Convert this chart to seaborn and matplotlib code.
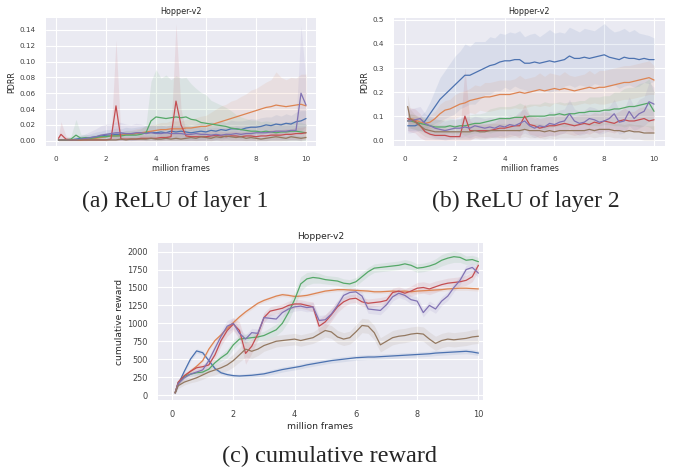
import numpy as np
import matplotlib
matplotlib.use("Agg")
import matplotlib.pyplot as plt
import seaborn as sns

# x grid (million frames): 0.1, then every 0.2 up to 10
FRAMES = np.concatenate([[0.1], np.arange(1, 51) * 0.2])
SERIES = ["blue", "orange", "green", "red", "purple", "brown"]

# (a) PDRR, ReLU of layer 1
a_blue = [0.001,
          0.001, 0.001, 0.001, 0.002, 0.003, 0.003, 0.004, 0.005, 0.006, 0.007,
          0.007, 0.008, 0.008, 0.009, 0.008, 0.009, 0.010, 0.010, 0.011, 0.010,
          0.011, 0.010, 0.012, 0.011, 0.012, 0.011, 0.010, 0.011, 0.012, 0.011,
          0.013, 0.012, 0.014, 0.013, 0.015, 0.015, 0.014, 0.016, 0.017, 0.017,
          0.018, 0.020, 0.019, 0.021, 0.020, 0.022, 0.021, 0.024, 0.025, 0.028]
a_orange = [0.001,
            0.001, 0.001, 0.001, 0.001, 0.001, 0.002, 0.003, 0.003, 0.004, 0.005,
            0.006, 0.006, 0.007, 0.008, 0.008, 0.009, 0.010, 0.011, 0.012, 0.013,
            0.014, 0.014, 0.015, 0.015, 0.015, 0.016, 0.016, 0.017, 0.018, 0.018,
            0.020, 0.022, 0.024, 0.026, 0.028, 0.030, 0.032, 0.034, 0.036, 0.038,
            0.040, 0.042, 0.043, 0.045, 0.044, 0.043, 0.044, 0.045, 0.046, 0.044]
a_green = [0.001,
           0.001, 0.001, 0.002, 0.007, 0.003, 0.004, 0.003, 0.004, 0.005, 0.005,
           0.006, 0.006, 0.006, 0.007, 0.007, 0.007, 0.008, 0.010, 0.025, 0.030,
           0.029, 0.028, 0.029, 0.030, 0.029, 0.030, 0.027, 0.026, 0.023, 0.022,
           0.021, 0.020, 0.019, 0.018, 0.016, 0.015, 0.014, 0.013, 0.012, 0.012,
           0.011, 0.012, 0.011, 0.010, 0.011, 0.011, 0.012, 0.012, 0.011, 0.010]
a_red = [0.003,
         0.008, 0.002, 0.001, 0.001, 0.001, 0.001, 0.001, 0.001, 0.001, 0.001,
         0.002, 0.044, 0.002, 0.002, 0.002, 0.002, 0.003, 0.003, 0.003, 0.003,
         0.004, 0.004, 0.005, 0.050, 0.020, 0.006, 0.005, 0.005, 0.005, 0.005,
         0.006, 0.007, 0.006, 0.005, 0.006, 0.006, 0.005, 0.006, 0.006, 0.005,
         0.006, 0.006, 0.007, 0.007, 0.007, 0.008, 0.008, 0.009, 0.009, 0.010]
a_purple = [0.001,
            0.001, 0.001, 0.001, 0.001, 0.002, 0.003, 0.004, 0.005, 0.007, 0.008,
            0.009, 0.010, 0.010, 0.009, 0.009, 0.010, 0.010, 0.009, 0.010, 0.009,
            0.009, 0.010, 0.009, 0.009, 0.009, 0.008, 0.008, 0.009, 0.008, 0.008,
            0.007, 0.008, 0.007, 0.008, 0.008, 0.009, 0.008, 0.009, 0.009, 0.010,
            0.010, 0.010, 0.011, 0.012, 0.012, 0.012, 0.013, 0.013, 0.060, 0.045]
a_brown = [0.001,
           0.001, 0.001, 0.001, 0.001, 0.001, 0.001, 0.001, 0.001, 0.001, 0.001,
           0.001, 0.001, 0.002, 0.001, 0.002, 0.002, 0.002, 0.002, 0.003, 0.002,
           0.002, 0.003, 0.002, 0.003, 0.002, 0.003, 0.004, 0.003, 0.005, 0.004,
           0.003, 0.005, 0.004, 0.006, 0.005, 0.004, 0.005, 0.003, 0.004, 0.003,
           0.002, 0.003, 0.004, 0.005, 0.004, 0.003, 0.005, 0.004, 0.003, 0.004]
# half-widths of the shaded bands
a_blue_sd = [0.002,
             0.002, 0.002, 0.003, 0.003, 0.004, 0.004, 0.005, 0.006, 0.006, 0.007,
             0.007, 0.008, 0.007, 0.008, 0.008, 0.008, 0.008, 0.009, 0.008, 0.009,
             0.009, 0.008, 0.009, 0.009, 0.009, 0.010, 0.009, 0.010, 0.011, 0.010,
             0.011, 0.010, 0.011, 0.010, 0.011, 0.010, 0.011, 0.010, 0.011, 0.010,
             0.011, 0.010, 0.011, 0.012, 0.011, 0.012, 0.011, 0.012, 0.013, 0.010]
a_orange_sd = [0.001,
               0.001, 0.001, 0.001, 0.001, 0.001, 0.002, 0.002, 0.002, 0.003, 0.003,
               0.004, 0.004, 0.004, 0.005, 0.005, 0.006, 0.006, 0.007, 0.008, 0.008,
               0.009, 0.009, 0.010, 0.010, 0.010, 0.011, 0.011, 0.012, 0.013, 0.014,
               0.016, 0.018, 0.020, 0.020, 0.022, 0.022, 0.024, 0.025, 0.028, 0.028,
               0.030, 0.032, 0.034, 0.042, 0.036, 0.034, 0.036, 0.034, 0.038, 0.040]
a_green_sd = [0.001,
              0.001, 0.002, 0.004, 0.020, 0.005, 0.004, 0.004, 0.004, 0.004, 0.005,
              0.005, 0.005, 0.005, 0.006, 0.006, 0.006, 0.007, 0.010, 0.050, 0.060,
              0.050, 0.055, 0.048, 0.052, 0.050, 0.050, 0.045, 0.040, 0.038, 0.036,
              0.030, 0.028, 0.026, 0.024, 0.022, 0.018, 0.016, 0.015, 0.014, 0.014,
              0.013, 0.013, 0.013, 0.012, 0.012, 0.012, 0.012, 0.012, 0.012, 0.011]
a_red_sd = [0.003,
            0.016, 0.004, 0.002, 0.002, 0.002, 0.002, 0.002, 0.002, 0.002, 0.002,
            0.003, 0.083, 0.003, 0.003, 0.003, 0.003, 0.004, 0.004, 0.004, 0.004,
            0.005, 0.005, 0.006, 0.098, 0.020, 0.006, 0.006, 0.006, 0.006, 0.006,
            0.006, 0.006, 0.006, 0.006, 0.006, 0.006, 0.006, 0.006, 0.006, 0.006,
            0.006, 0.006, 0.007, 0.007, 0.007, 0.007, 0.007, 0.008, 0.008, 0.008]
a_purple_sd = [0.001,
               0.002, 0.002, 0.002, 0.003, 0.004, 0.006, 0.008, 0.010, 0.012, 0.013,
               0.012, 0.014, 0.013, 0.012, 0.011, 0.012, 0.011, 0.010, 0.010, 0.010,
               0.010, 0.010, 0.010, 0.009, 0.009, 0.009, 0.009, 0.009, 0.009, 0.009,
               0.009, 0.009, 0.009, 0.009, 0.009, 0.010, 0.010, 0.010, 0.010, 0.010,
               0.010, 0.010, 0.010, 0.011, 0.011, 0.011, 0.012, 0.012, 0.085, 0.030]
a_brown_sd = [0.001,
              0.001, 0.001, 0.001, 0.001, 0.001, 0.001, 0.001, 0.001, 0.001, 0.001,
              0.001, 0.001, 0.002, 0.002, 0.002, 0.002, 0.002, 0.002, 0.002, 0.002,
              0.002, 0.002, 0.002, 0.003, 0.002, 0.003, 0.003, 0.003, 0.004, 0.003,
              0.003, 0.004, 0.003, 0.004, 0.004, 0.003, 0.004, 0.003, 0.003, 0.003,
              0.002, 0.003, 0.003, 0.004, 0.003, 0.003, 0.004, 0.003, 0.003, 0.003]

# (b) PDRR, ReLU of layer 2
b_blue = [0.06,
          0.06, 0.06, 0.07, 0.08, 0.11, 0.14, 0.17, 0.19, 0.21, 0.23,
          0.25, 0.27, 0.27, 0.28, 0.29, 0.30, 0.31, 0.315, 0.325, 0.33,
          0.33, 0.335, 0.335, 0.32, 0.32, 0.325, 0.32, 0.325, 0.33, 0.325,
          0.33, 0.335, 0.35, 0.34, 0.34, 0.345, 0.34, 0.345, 0.35, 0.355,
          0.345, 0.34, 0.335, 0.345, 0.34, 0.34, 0.335, 0.34, 0.335, 0.335]
b_orange = [0.08,
            0.09, 0.085, 0.075, 0.07, 0.075, 0.09, 0.11, 0.125, 0.13, 0.14,
            0.15, 0.155, 0.165, 0.17, 0.175, 0.18, 0.18, 0.185, 0.19, 0.19,
            0.19, 0.195, 0.20, 0.195, 0.20, 0.205, 0.21, 0.205, 0.21, 0.215,
            0.21, 0.215, 0.21, 0.205, 0.21, 0.215, 0.22, 0.215, 0.22, 0.22,
            0.225, 0.23, 0.235, 0.24, 0.24, 0.245, 0.25, 0.255, 0.26, 0.25]
b_green = [0.08,
           0.08, 0.075, 0.07, 0.065, 0.06, 0.055, 0.055, 0.055, 0.06, 0.055,
           0.06, 0.06, 0.065, 0.07, 0.07, 0.075, 0.08, 0.085, 0.09, 0.09,
           0.09, 0.095, 0.095, 0.095, 0.10, 0.10, 0.10, 0.10, 0.105, 0.105,
           0.11, 0.105, 0.11, 0.11, 0.115, 0.115, 0.12, 0.12, 0.12, 0.125,
           0.125, 0.13, 0.13, 0.135, 0.14, 0.14, 0.145, 0.15, 0.155, 0.12]
b_red = [0.09,
         0.085, 0.08, 0.06, 0.035, 0.025, 0.02, 0.02, 0.02, 0.015, 0.015,
         0.015, 0.10, 0.04, 0.04, 0.04, 0.04, 0.04, 0.045, 0.05, 0.05,
         0.055, 0.06, 0.06, 0.10, 0.065, 0.06, 0.05, 0.055, 0.06, 0.06,
         0.065, 0.07, 0.065, 0.06, 0.065, 0.07, 0.065, 0.075, 0.07, 0.08,
         0.075, 0.07, 0.08, 0.085, 0.08, 0.08, 0.085, 0.09, 0.08, 0.085]
b_purple = [0.08,
            0.08, 0.085, 0.09, 0.07, 0.06, 0.05, 0.045, 0.04, 0.045, 0.05,
            0.05, 0.055, 0.05, 0.06, 0.055, 0.05, 0.055, 0.05, 0.06, 0.055,
            0.065, 0.06, 0.07, 0.08, 0.06, 0.05, 0.06, 0.055, 0.07, 0.065,
            0.075, 0.08, 0.11, 0.08, 0.07, 0.075, 0.09, 0.085, 0.075, 0.08,
            0.09, 0.11, 0.075, 0.08, 0.12, 0.09, 0.11, 0.12, 0.16, 0.15]
b_brown = [0.14,
           0.09, 0.075, 0.06, 0.045, 0.04, 0.035, 0.035, 0.035, 0.035, 0.035,
           0.035, 0.035, 0.035, 0.04, 0.035, 0.035, 0.04, 0.04, 0.04, 0.04,
           0.04, 0.04, 0.04, 0.045, 0.04, 0.04, 0.04, 0.035, 0.04, 0.035,
           0.04, 0.04, 0.04, 0.04, 0.04, 0.04, 0.045, 0.04, 0.045, 0.045,
           0.045, 0.04, 0.04, 0.035, 0.04, 0.035, 0.035, 0.03, 0.03, 0.03]
b_blue_sd = [0.02,
             0.02, 0.02, 0.03, 0.04, 0.05, 0.07, 0.09, 0.10, 0.11, 0.12,
             0.12, 0.13, 0.12, 0.13, 0.12, 0.11, 0.12, 0.11, 0.12, 0.11,
             0.12, 0.11, 0.12, 0.11, 0.12, 0.12, 0.11, 0.12, 0.13, 0.12,
             0.12, 0.11, 0.12, 0.12, 0.11, 0.12, 0.12, 0.11, 0.12, 0.13,
             0.12, 0.11, 0.12, 0.12, 0.11, 0.12, 0.11, 0.10, 0.10, 0.09]
b_orange_sd = [0.02,
               0.02, 0.02, 0.02, 0.02, 0.03, 0.03, 0.04, 0.04, 0.04, 0.05,
               0.05, 0.05, 0.05, 0.06, 0.05, 0.06, 0.06, 0.06, 0.06, 0.06,
               0.06, 0.06, 0.07, 0.06, 0.06, 0.06, 0.07, 0.06, 0.07, 0.06,
               0.06, 0.07, 0.06, 0.06, 0.06, 0.06, 0.07, 0.06, 0.07, 0.07,
               0.07, 0.07, 0.07, 0.07, 0.07, 0.07, 0.07, 0.07, 0.07, 0.06]
b_green_sd = [0.03,
              0.03, 0.03, 0.03, 0.03, 0.03, 0.03, 0.03, 0.03, 0.03, 0.03,
              0.03, 0.04, 0.04, 0.04, 0.04, 0.04, 0.05, 0.05, 0.05, 0.05,
              0.05, 0.05, 0.06, 0.05, 0.05, 0.05, 0.05, 0.06, 0.05, 0.05,
              0.05, 0.05, 0.05, 0.05, 0.05, 0.05, 0.06, 0.06, 0.06, 0.06,
              0.06, 0.07, 0.07, 0.08, 0.08, 0.08, 0.09, 0.09, 0.10, 0.08]
b_red_sd = [0.05,
            0.05, 0.05, 0.05, 0.04, 0.03, 0.03, 0.03, 0.03, 0.02, 0.02,
            0.02, 0.20, 0.04, 0.03, 0.03, 0.03, 0.03, 0.03, 0.04, 0.04,
            0.04, 0.04, 0.05, 0.05, 0.04, 0.04, 0.04, 0.04, 0.04, 0.04,
            0.04, 0.04, 0.04, 0.04, 0.04, 0.04, 0.04, 0.04, 0.04, 0.04,
            0.04, 0.04, 0.04, 0.05, 0.04, 0.04, 0.05, 0.05, 0.05, 0.05]
b_purple_sd = [0.05,
               0.05, 0.05, 0.05, 0.04, 0.04, 0.04, 0.04, 0.04, 0.04, 0.04,
               0.04, 0.04, 0.04, 0.04, 0.04, 0.04, 0.04, 0.04, 0.04, 0.04,
               0.04, 0.04, 0.05, 0.05, 0.04, 0.04, 0.04, 0.04, 0.05, 0.05,
               0.05, 0.05, 0.06, 0.05, 0.05, 0.05, 0.05, 0.05, 0.05, 0.05,
               0.05, 0.06, 0.05, 0.05, 0.06, 0.05, 0.06, 0.06, 0.08, 0.07]
b_brown_sd = [0.05,
              0.04, 0.03, 0.03, 0.03, 0.03, 0.03, 0.03, 0.03, 0.03, 0.03,
              0.03, 0.03, 0.03, 0.03, 0.03, 0.03, 0.03, 0.03, 0.03, 0.03,
              0.03, 0.03, 0.03, 0.03, 0.03, 0.03, 0.03, 0.03, 0.03, 0.03,
              0.03, 0.03, 0.03, 0.03, 0.03, 0.03, 0.03, 0.03, 0.03, 0.03,
              0.03, 0.03, 0.03, 0.03, 0.03, 0.03, 0.03, 0.03, 0.03, 0.03]

# (c) cumulative reward
c_blue = [30,
          150, 330, 500, 615, 590, 480, 370, 310, 285, 270,
          265, 270, 275, 285, 295, 315, 335, 355, 370, 385,
          400, 420, 435, 450, 465, 480, 490, 500, 510, 520,
          525, 530, 530, 535, 540, 545, 550, 555, 560, 565,
          570, 575, 585, 590, 595, 600, 605, 610, 600, 585]
c_orange = [30,
            170, 260, 330, 400, 480, 640, 760, 840, 930, 1010,
            1090, 1160, 1220, 1280, 1320, 1350, 1380, 1400, 1390, 1375,
            1380, 1390, 1410, 1430, 1450, 1460, 1470, 1470, 1465, 1460,
            1455, 1450, 1440, 1440, 1445, 1450, 1445, 1450, 1440, 1450,
            1455, 1460, 1465, 1470, 1480, 1485, 1490, 1490, 1485, 1480]
c_green = [30,
           170, 260, 290, 310, 320, 360, 450, 520, 580, 700,
           780, 790, 800, 810, 830, 870, 910, 1000, 1150, 1330,
           1550, 1620, 1640, 1630, 1610, 1600, 1590, 1560, 1550, 1580,
           1650, 1720, 1770, 1780, 1790, 1800, 1810, 1830, 1810, 1770,
           1780, 1800, 1830, 1880, 1910, 1930, 1920, 1880, 1890, 1860]
c_red = [30,
         180, 270, 330, 380, 395, 420, 560, 760, 900, 990,
         900, 580, 680, 850, 1080, 1170, 1190, 1210, 1250, 1270,
         1270, 1250, 1230, 960, 1020, 1120, 1230, 1300, 1340, 1350,
         1300, 1280, 1290, 1300, 1320, 1430, 1450, 1420, 1450, 1490,
         1500, 1480, 1510, 1540, 1560, 1570, 1580, 1600, 1650, 1810]
c_purple = [30,
            160, 240, 290, 320, 350, 480, 650, 820, 960, 1000,
            860, 780, 870, 860, 1080, 1070, 1060, 1150, 1200, 1230,
            1240, 1220, 1230, 1040, 1050, 1130, 1250, 1390, 1430, 1440,
            1380, 1200, 1190, 1180, 1260, 1370, 1420, 1390, 1330, 1310,
            1150, 1250, 1200, 1310, 1380, 1500, 1600, 1750, 1780, 1700]
c_brown = [30,
           130, 180, 210, 240, 280, 320, 350, 380, 420, 480,
           560, 640, 610, 640, 690, 720, 750, 760, 770, 780,
           760, 780, 800, 850, 900, 880, 810, 780, 800, 880,
           970, 960, 870, 700, 750, 800, 820, 830, 850, 860,
           850, 780, 720, 760, 780, 770, 780, 790, 810, 820]
c_blue_sd = [15,
             30, 30, 30, 30, 30, 25, 25, 25, 25, 25,
             25, 30, 30, 30, 30, 35, 35, 35, 35, 35,
             35, 35, 35, 35, 35, 35, 35, 35, 35, 35,
             35, 35, 35, 35, 35, 35, 35, 35, 35, 35,
             35, 35, 35, 35, 35, 35, 35, 35, 35, 35]
c_orange_sd = [15,
               25, 25, 25, 25, 25, 25, 25, 25, 25, 25,
               25, 25, 25, 25, 25, 25, 25, 25, 25, 25,
               25, 25, 25, 25, 25, 25, 25, 25, 25, 25,
               25, 25, 25, 25, 25, 25, 25, 25, 25, 25,
               25, 25, 25, 25, 25, 25, 30, 30, 30, 30]
c_green_sd = [15,
              30, 30, 30, 30, 30, 35, 40, 50, 60, 60,
              60, 60, 60, 60, 60, 70, 80, 100, 120, 110,
              100, 90, 80, 70, 60, 60, 60, 60, 60, 60,
              60, 60, 60, 60, 60, 60, 60, 60, 60, 60,
              60, 60, 70, 80, 80, 80, 70, 60, 60, 60]
c_red_sd = [15,
            40, 40, 40, 40, 40, 50, 60, 70, 80, 90,
            120, 150, 100, 80, 70, 60, 60, 60, 60, 60,
            60, 60, 70, 100, 100, 90, 80, 70, 60, 60,
            60, 60, 60, 60, 60, 60, 60, 60, 70, 80,
            80, 80, 80, 70, 70, 70, 70, 70, 70, 70]
c_purple_sd = [15,
               40, 40, 40, 40, 50, 60, 70, 80, 80, 80,
               70, 60, 60, 60, 60, 60, 60, 60, 60, 60,
               60, 60, 60, 70, 70, 70, 70, 60, 60, 60,
               60, 60, 60, 60, 60, 60, 60, 60, 60, 60,
               60, 60, 60, 60, 60, 60, 60, 60, 60, 60]
c_brown_sd = [15,
              40, 40, 40, 50, 60, 60, 70, 70, 80, 90,
              100, 110, 100, 90, 80, 80, 80, 80, 80, 80,
              80, 80, 80, 90, 90, 90, 90, 90, 90, 100,
              100, 100, 100, 100, 100, 100, 100, 100, 100, 100,
              100, 100, 100, 100, 100, 100, 100, 100, 100, 100]

sns.set_theme(style="darkgrid", palette="deep")
plt.rcParams["font.family"] = ["DejaVu Sans"]
colors = sns.color_palette("deep", 6)

fig = plt.figure(figsize=(6.78, 4.72), dpi=100)


def draw(ax, means, sds, ylabel, fs_tick, fs_label, clip_zero):
    for mean, sd, col in zip(means, sds, colors):
        mean = np.asarray(mean, dtype=float)
        sd = np.asarray(sd, dtype=float)
        lo = mean - sd
        if clip_zero:
            lo = np.maximum(lo, 0)
        ax.fill_between(FRAMES, lo, mean + sd, color=col, alpha=0.11, linewidth=0)
    for mean, col in zip(means, colors):
        sns.lineplot(x=FRAMES, y=mean, color=col, linewidth=0.9, ax=ax)
    ax.set_title("Hopper-v2", fontsize=fs_label, pad=3)
    ax.set_xlabel("million frames", fontsize=fs_label, labelpad=1.5)
    ax.set_ylabel(ylabel, fontsize=fs_label, labelpad=2)
    ax.tick_params(labelsize=fs_tick, pad=1.5, colors="0.25")
    ax.set_xticks([0, 2, 4, 6, 8, 10])
    for side in ax.spines.values():
        side.set_visible(False)
    ax.grid(color="white", linewidth=0.8)


ax_a = fig.add_axes([0.0678, 0.6907, 0.3983, 0.2712])
draw(ax_a, [a_blue, a_orange, a_green, a_red, a_purple, a_brown],
     [a_blue_sd, a_orange_sd, a_green_sd, a_red_sd, a_purple_sd, a_brown_sd],
     "PDRR", 5.2, 5.8, True)
ax_a.set_xlim(-0.4, 10.4)
ax_a.set_ylim(-0.0067, 0.155)
ax_a.set_yticks([0.0, 0.02, 0.04, 0.06, 0.08, 0.10, 0.12, 0.14])
ax_a.set_yticklabels(["0.00", "0.02", "0.04", "0.06", "0.08", "0.10", "0.12", "0.14"])

ax_b = fig.add_axes([0.5811, 0.6907, 0.3997, 0.2712])
draw(ax_b, [b_blue, b_orange, b_green, b_red, b_purple, b_brown],
     [b_blue_sd, b_orange_sd, b_green_sd, b_red_sd, b_purple_sd, b_brown_sd],
     "PDRR", 5.2, 5.8, True)
ax_b.set_xlim(-0.45, 10.44)
ax_b.set_ylim(-0.024, 0.508)
ax_b.set_yticks([0.0, 0.1, 0.2, 0.3, 0.4, 0.5])

ax_c = fig.add_axes([0.233, 0.1525, 0.4794, 0.3327])
draw(ax_c, [c_blue, c_orange, c_green, c_red, c_purple, c_brown],
     [c_blue_sd, c_orange_sd, c_green_sd, c_red_sd, c_purple_sd, c_brown_sd],
     "cumulative reward", 5.9, 6.6, False)
ax_c.set_xlim(-0.46, 10.15)
ax_c.set_ylim(-70, 2121)
ax_c.set_yticks([0, 250, 500, 750, 1000, 1250, 1500, 1750, 2000])

serif = ["Liberation Serif", "DejaVu Serif"]
fig.text(175.5 / 678, 1 - 201.7 / 472, "(a) ReLU of layer 1", family=serif,
         fontsize=17, ha="center", va="center")
fig.text(525.4 / 678, 1 - 201.7 / 472, "(b) ReLU of layer 2", family=serif,
         fontsize=17, ha="center", va="center")
fig.text(330 / 678, 1 - 456.7 / 472, "(c) cumulative reward", family=serif,
         fontsize=17.5, ha="center", va="center")

fig.savefig("out.png", dpi=100, facecolor="white")
